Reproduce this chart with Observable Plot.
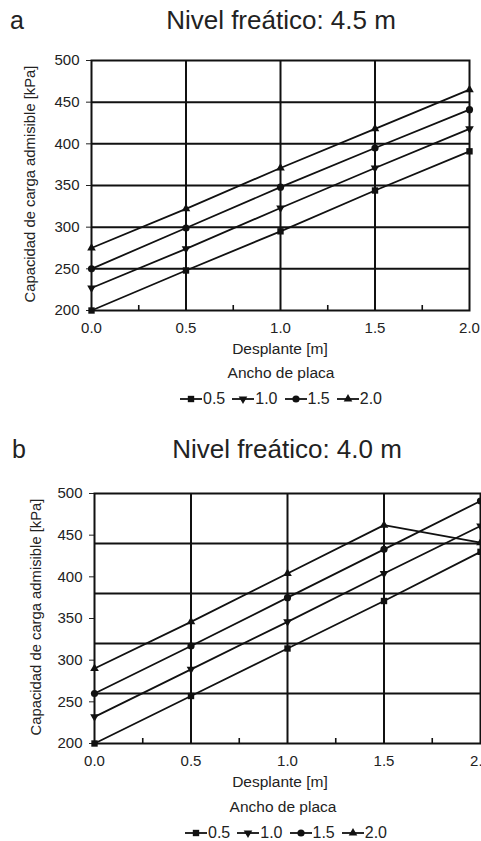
<!DOCTYPE html>
<html><head><meta charset="utf-8">
<script src="https://cdn.jsdelivr.net/npm/d3@7"></script>
<script src="https://cdn.jsdelivr.net/npm/@observablehq/plot@0.6"></script>
<style>
html,body{margin:0;padding:0;background:#fff;}
body{width:481px;height:841px;position:relative;overflow:hidden;font-family:"Liberation Sans",Arial,Helvetica,sans-serif;color:#222;}
.t{position:absolute;white-space:nowrap;line-height:1;}
.p{position:absolute;left:0;}
.leg{position:absolute;display:flex;align-items:center;white-space:nowrap;line-height:1;font-size:16px;}
.leg svg{display:block;}
</style></head><body>
<script>
// ---- data ----
const desplante = [0, 0.5, 1.0, 1.5, 2.0];
const anchos = ["0.5", "1.0", "1.5", "2.0"];
// Panel a: Nivel freático 4.5 m
const cargaA_05 = [200, 248, 295, 344, 391];
const cargaA_10 = [227, 274, 323, 371, 418];
const cargaA_15 = [250, 299, 348, 395, 441];
const cargaA_20 = [275, 322, 371, 418, 465];
// Panel b: Nivel freático 4.0 m
const cargaB_05 = [200, 257, 314, 371, 430];
const cargaB_10 = [232, 289, 346, 404, 461];
const cargaB_15 = [260, 317, 375, 433, 491];
const cargaB_20 = [290, 346, 404, 462, 441];
const xTicks = [0, 0.5, 1.0, 1.5, 2.0];
const xMinor = [0.25, 0.75, 1.25, 1.75];
const xGrid = [0.5, 1.0, 1.5];
const yTicks = [200, 250, 300, 350, 400, 450, 500];
const gridA = [250, 300, 350, 400, 450];
const gridB = [260, 320, 380, 440];
const titles = ["Nivel freático: 4.5 m", "Nivel freático: 4.0 m"];
const letters = ["a", "b"];
const xLabel = "Desplante [m]";
const yLabel = "Capacidad de carga admisible [kPa]";
const legendTitle = "Ancho de placa";

// ---- symbols ----
const triDown = {
  draw(ctx, size) {
    const y = -Math.sqrt(size / (Math.sqrt(3) * 3));
    ctx.moveTo(0, -y * 2);
    ctx.lineTo(-Math.sqrt(3) * y, y);
    ctx.lineTo(Math.sqrt(3) * y, y);
    ctx.closePath();
  }
};
const symbols = [d3.symbolSquare, triDown, d3.symbolCircle, d3.symbolTriangle];
const radii = [3.6, 3.2, 3.6, 3.2];
const ink = "#111";
const FONT = '"Liberation Sans", Arial, Helvetica, sans-serif';

function rows(series) {
  const out = [];
  series.forEach((vals, i) => vals.forEach((v, j) => out.push({x: desplante[j], y: v, s: anchos[i], i})));
  return out;
}

function text(str, x, baseline, fs, anchor) {
  const d = document.createElement("div");
  d.className = "t";
  d.textContent = str;
  d.style.fontSize = fs + "px";
  d.style.left = x + "px";
  d.style.top = (baseline - 0.846 * fs) + "px";
  if (anchor === "middle") d.style.transform = "translateX(-50%)";
  document.body.appendChild(d);
  return d;
}
function vtext(str, cx, cy, fs) {
  const d = document.createElement("div");
  d.className = "t";
  d.textContent = str;
  d.style.fontSize = fs + "px";
  d.style.left = cx + "px";
  d.style.top = cy + "px";
  d.style.transform = "translate(-50%,-50%) rotate(-90deg)";
  document.body.appendChild(d);
}

function legend(left, baseline) {
  const fs = 16;
  const box = document.createElement("div");
  box.className = "leg";
  box.style.left = left + "px";
  box.style.top = (baseline - 0.846 * fs) + "px";
  anchos.forEach((a, i) => {
    const w = 22, h = 12;
    const svg = d3.create("svg").attr("width", w).attr("height", h).style("margin-right", "1px").style("margin-left", i ? "7px" : "0");
    svg.append("line").attr("x1", 0).attr("x2", w).attr("y1", h / 2).attr("y2", h / 2).attr("stroke", ink).attr("stroke-width", 1.8);
    svg.append("path").attr("transform", `translate(${w / 2},${h / 2})`)
      .attr("d", d3.symbol(symbols[i], Math.PI * radii[i] * radii[i])()).attr("fill", ink);
    box.appendChild(svg.node());
    const sp = document.createElement("span");
    sp.textContent = a;
    box.appendChild(sp);
  });
  document.body.appendChild(box);
}

function chart(series, grid, top, mL, mR) {
  const data = rows(series);
  const marks = [
    Plot.ruleX(xGrid, {stroke: ink, strokeWidth: 2}),
    Plot.ruleY(grid, {stroke: ink, strokeWidth: 2}),
    Plot.ruleX(xMinor, {y1: 200, y2: 206, stroke: ink, strokeWidth: 1.6}),
    Plot.frame({stroke: ink, strokeWidth: 2}),
    Plot.line(data, {x: "x", y: "y", z: "s", stroke: ink, strokeWidth: 1.8})
  ];
  anchos.forEach((a, i) => {
    marks.push(Plot.dot(data.filter(d => d.i === i), {x: "x", y: "y", symbol: symbols[i], r: radii[i], fill: ink, stroke: "none"}));
  });
  const p = Plot.plot({
    width: 481, height: 295,
    marginTop: 15, marginBottom: 30, marginLeft: mL, marginRight: mR,
    style: {fontFamily: FONT, fontSize: "15px", color: "#222", background: "transparent", overflow: "visible"},
    x: {domain: [0, 2], ticks: xTicks, tickFormat: d => d.toFixed(1), label: null, tickSize: 0, tickPadding: 12},
    y: {domain: [200, 500], ticks: yTicks, label: null, tickSize: 5, tickPadding: 7},
    marks
  });
  p.classList.add("p");
  p.style.top = top + "px";
  document.body.appendChild(p);
}

// panel a
chart([cargaA_05, cargaA_10, cargaA_15, cargaA_20], gridA, 45, 91, 12);
// panel b
chart([cargaB_05, cargaB_10, cargaB_15, cargaB_20], gridB, 478, 94, 1);

text(letters[0], 10, 29, 25);
text(titles[0], 281, 29, 26, "middle");
vtext(yLabel, 30, 184, 14.8);
text(xLabel, 280, 354, 15.5, "middle");
text(legendTitle, 281, 378, 15.5, "middle");
legend(180, 405);

text(letters[1], 12, 458, 25);
text(titles[1], 287, 458, 26, "middle");
vtext(yLabel, 36, 617, 14.8);
text(xLabel, 280, 787, 15.5, "middle");
text(legendTitle, 283, 812, 15.5, "middle");
legend(185, 839);
</script>
</body></html>
